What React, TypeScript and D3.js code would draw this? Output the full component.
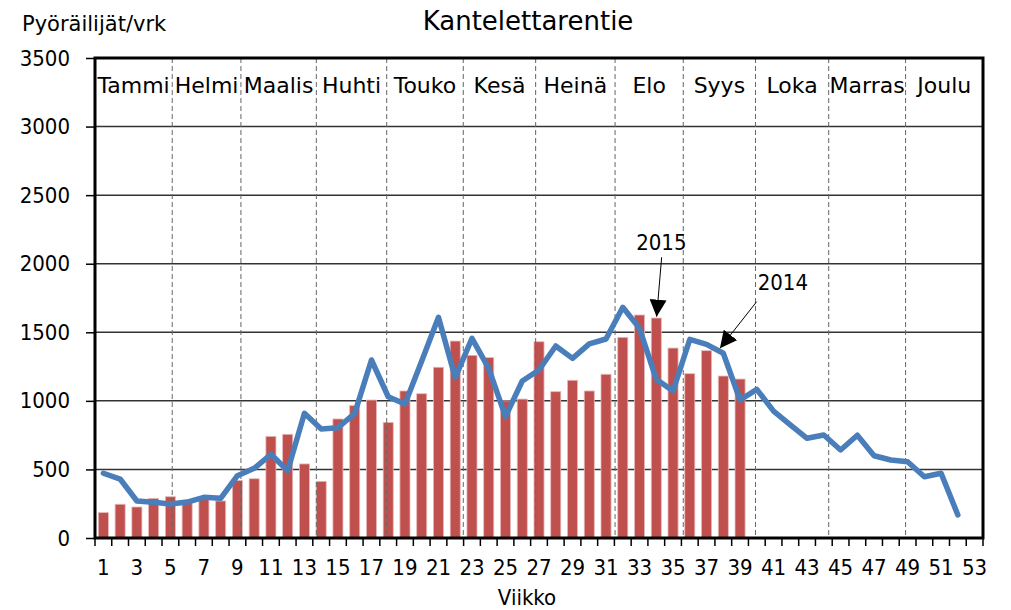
import React, { useEffect, useRef } from 'react';
import * as d3 from 'd3';

const weeks = d3.range(1, 54);
const tickWeeks = weeks.filter(w => w % 2 === 1);
const bars2015 = [185, 246, 226, 289, 301, 265, 289, 270, 420, 432, 741, 756, 540, 413, 868, 965, 1006, 843, 1072, 1052,
  1245, 1436, 1332, 1315, 1000, 1013, 1431, 1067, 1150, 1072, 1194, 1463, 1626, 1604, 1385, 1198, 1366, 1181, 1159];
const line2014 = [472, 430, 270, 260, 248, 262, 297, 289, 454, 508, 610, 491, 909, 795, 804, 909, 1298, 1030, 977, 1290,
  1609, 1169, 1456, 1237, 885, 1145, 1225, 1400, 1310, 1415, 1451, 1682, 1529, 1157, 1072, 1449, 1412, 1347, 1006, 1084,
  925, 824, 727, 751, 642, 749, 600, 569, 556, 447, 472, 168];
const yTicks = [0, 500, 1000, 1500, 2000, 2500, 3000, 3500];
const months = ['Tammi', 'Helmi', 'Maalis', 'Huhti', 'Touko', 'Kesä', 'Heinä', 'Elo', 'Syys', 'Loka', 'Marras', 'Joulu'];
// kuukausirajat viikkoina (akselin vasemmasta reunasta)
const monthEdges = [4.61, 8.71, 13.21, 17.41, 21.98, 26.3, 31.04, 35.11, 39.42, 43.79, 48.38];
const annotations = [
  { label: '2015', tx: 33.8, ty: 2100, anchor: 'middle', x1: 33.82, y1: 2047, x2: 33.52, y2: 1614 },
  { label: '2014', tx: 39.55, ty: 1810, anchor: 'start', x1: 39.49, y1: 1723, x2: 37.3, y2: 1383 },
];

const NUM_FONT = '"DejaVu Sans Condensed", "DejaVu Sans", sans-serif';
const FONT = '"DejaVu Sans", sans-serif';

export default function App() {
  const svgRef = useRef<SVGSVGElement>(null);
  const width = 1011;
  const height = 610;

  useEffect(() => {
    const svg = d3.select(svgRef.current);
    svg.selectAll('*').remove();

    const margin = { top: 58, right: 28, bottom: 72, left: 95 };
    const x0 = margin.left, x1 = width - margin.right;
    const y0 = height - margin.bottom, y1 = margin.top;

    const xLin = d3.scaleLinear().domain([0, 53]).range([x0, x1]);
    const y = d3.scaleLinear().domain([0, 3500]).range([y0, y1]);
    const xc = (w: number) => xLin(w - 0.5);

    // vaakaviivat
    svg.append('g')
      .selectAll('line')
      .data(yTicks.filter(t => t > 0 && t < 3500))
      .enter()
      .append('line')
      .attr('x1', x0).attr('x2', x1)
      .attr('y1', d => y(d)).attr('y2', d => y(d))
      .attr('stroke', '#333').attr('stroke-width', 1.5);

    // pylväät 2015
    const bw = xLin(0.6) - xLin(0);
    svg.append('g')
      .selectAll('rect')
      .data(bars2015)
      .enter()
      .append('rect')
      .attr('x', (d, i) => xc(i + 1) - bw / 2)
      .attr('y', d => y(d))
      .attr('width', bw)
      .attr('height', d => y0 - y(d))
      .attr('fill', '#C0504D')
      .attr('stroke', '#E6B9B8')
      .attr('stroke-width', 0.8);

    // kuukausirajat
    svg.append('g')
      .selectAll('line')
      .data(monthEdges)
      .enter()
      .append('line')
      .attr('x1', d => xLin(d)).attr('x2', d => xLin(d))
      .attr('y1', y1).attr('y2', y0)
      .attr('stroke', '#666').attr('stroke-width', 1)
      .attr('stroke-dasharray', '5,3');

    const edges = [0, ...monthEdges, 53];
    svg.append('g')
      .selectAll('text')
      .data(months)
      .enter()
      .append('text')
      .attr('x', (d, i) => xLin((edges[i] + edges[i + 1]) / 2))
      .attr('y', 93)
      .attr('text-anchor', 'middle')
      .attr('font-family', FONT)
      .attr('font-size', 22)
      .attr('fill', '#000')
      .text(d => d);

    // viiva 2014
    const line = d3.line<number>()
      .x((d, i) => xc(i + 1))
      .y(d => y(d));
    svg.append('path')
      .datum(line2014)
      .attr('d', line)
      .attr('fill', 'none')
      .attr('stroke', '#4A7EBB')
      .attr('stroke-width', 5.5)
      .attr('stroke-linejoin', 'round')
      .attr('stroke-linecap', 'round');

    // kehys
    svg.append('rect')
      .attr('x', x0).attr('y', y1)
      .attr('width', x1 - x0).attr('height', y0 - y1)
      .attr('fill', 'none').attr('stroke', '#000').attr('stroke-width', 3);

    // y-akseli
    const yAxis = svg.append('g')
      .attr('transform', `translate(${x0},0)`)
      .call(d3.axisLeft(y).tickValues(yTicks).tickFormat(d3.format('d')).tickSize(9).tickPadding(16));
    yAxis.select('.domain').remove();
    yAxis.selectAll('line').attr('stroke', '#000').attr('stroke-width', 1.5);
    yAxis.selectAll('text').attr('font-family', NUM_FONT).attr('font-size', 22).attr('fill', '#000');

    // x-akseli
    svg.append('g')
      .selectAll('line')
      .data(d3.range(0, 54))
      .enter()
      .append('line')
      .attr('x1', d => xLin(d)).attr('x2', d => xLin(d))
      .attr('y1', y0).attr('y2', y0 + 8)
      .attr('stroke', '#000').attr('stroke-width', 1.5);
    svg.append('g')
      .selectAll('text')
      .data(tickWeeks)
      .enter()
      .append('text')
      .attr('x', d => xc(d))
      .attr('y', 575)
      .attr('text-anchor', 'middle')
      .attr('font-family', NUM_FONT)
      .attr('font-size', 22)
      .text(d => d);

    // otsikot
    svg.append('text')
      .attr('x', 528).attr('y', 30)
      .attr('text-anchor', 'middle')
      .attr('font-family', FONT).attr('font-size', 26)
      .text('Kantelettarentie');
    svg.append('text')
      .attr('x', 22).attr('y', 31)
      .attr('font-family', FONT).attr('font-size', 21)
      .text('Pyöräilijät/vrk');
    svg.append('text')
      .attr('x', 527).attr('y', 605)
      .attr('text-anchor', 'middle')
      .attr('font-family', NUM_FONT).attr('font-size', 22)
      .text('Viikko');

    // nuolet
    svg.append('defs').append('marker')
      .attr('id', 'arrow')
      .attr('viewBox', '0 0 10 10')
      .attr('refX', 10).attr('refY', 5)
      .attr('markerWidth', 17).attr('markerHeight', 17)
      .attr('markerUnits', 'userSpaceOnUse')
      .attr('orient', 'auto')
      .append('path')
      .attr('d', 'M0,0 L10,5 L0,10 Z')
      .attr('fill', '#000');

    const ann = svg.append('g');
    annotations.forEach(a => {
      ann.append('line')
        .attr('x1', xLin(a.x1)).attr('y1', y(a.y1))
        .attr('x2', xLin(a.x2)).attr('y2', y(a.y2))
        .attr('stroke', '#000').attr('stroke-width', 1)
        .attr('marker-end', 'url(#arrow)');
      ann.append('text')
        .attr('x', xLin(a.tx)).attr('y', y(a.ty))
        .attr('text-anchor', a.anchor)
        .attr('font-family', NUM_FONT).attr('font-size', 22)
        .text(a.label);
    });
  }, []);

  return (
    <svg ref={svgRef} width={width} height={height}
      style={{ position: 'absolute', left: 0, top: 0, background: '#fff' }} />
  );
}
